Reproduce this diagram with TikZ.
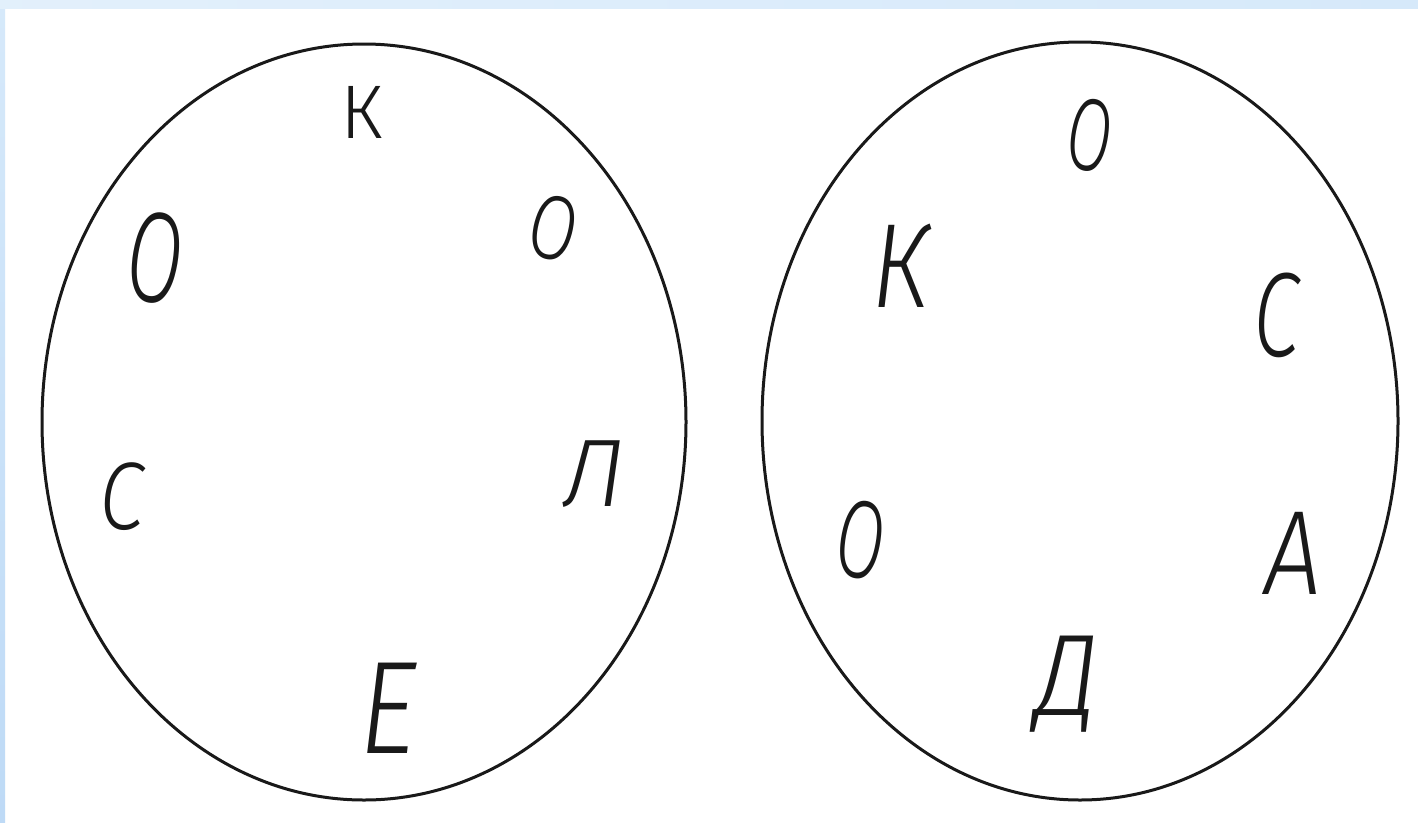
\documentclass[tikz,border=0pt]{standalone}
\usepackage{fontspec}
\usetikzlibrary{shapes.geometric}
\newfontfamily\handfont{Fira Sans}[UprightFont=* Light, ItalicFont=* Light Italic]
\definecolor{edgeblue}{RGB}{214, 233, 250}
\definecolor{edgedeep}{RGB}{190, 218, 246}

\begin{document}
\begin{tikzpicture}[
    x=1pt, y=-1pt,
    wheel/.style={
        ellipse,
        draw=black!90,
        line width=3pt,
        inner sep=0pt
    },
    letter/.style={
        font=\handfont\itshape\fontsize{#1}{#1}\selectfont,
        text=black!90,
        inner sep=0pt
    },
    letter/.default=90
]

% ==================== PAGE AND BORDER ====================
\useasboundingbox (0,0) rectangle (1418,822);
\fill[white] (0,0) rectangle (1418,822);
\shade[top color=edgeblue, bottom color=edgedeep] (0,0) rectangle (5,822);
\shade[left color=edgeblue!70, right color=edgeblue] (0,0) rectangle (1418,8);

% ==================== LEFT WHEEL ====================
\node (wheel_l) [wheel, minimum width=644pt, minimum height=756pt] at (364,422) {};
\node (l_k1) [letter=76] at (362,112) {\upshape К};
\node (l_o1) [letter=130, xscale=0.62, rotate=-6] at (155,258) {О};
\node (l_o2) [letter=92, xscale=0.75, rotate=-10] at (553,228) {О};
\node (l_l) [letter=96] at (594,474) {Л};
\node (l_s) [letter=96, xscale=0.85] at (122,497) {С};
\node (l_e) [letter=132, xscale=0.85] at (388,708) {Е};

% ==================== RIGHT WHEEL ====================
\node (wheel_r) [wheel, minimum width=636pt, minimum height=758pt] at (1080,421) {};
\node (r_o1) [letter=104, xscale=0.62, rotate=-8] at (1090,135) {О};
\node (r_k) [letter=120, xscale=0.85] at (900,266) {К};
\node (r_s) [letter=120, xscale=0.7] at (1276,315) {С};
\node (r_o2) [letter=112, xscale=0.62, rotate=-8] at (860,540) {О};
\node (r_a) [letter=120, xscale=0.85] at (1293,553) {А};
\node (r_d) [letter=116, xscale=0.9] at (1068,684) {Д};

\end{tikzpicture}
\end{document}
